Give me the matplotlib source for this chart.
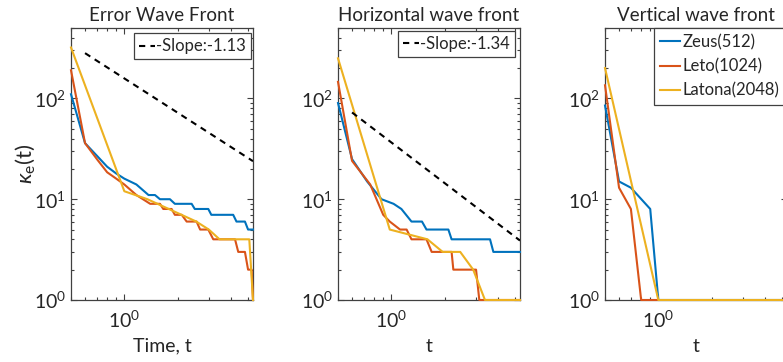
import matplotlib
matplotlib.use('Agg')
import numpy as np
import matplotlib.pyplot as plt
from matplotlib.ticker import NullFormatter

plt.rcParams['font.family'] = ['Lato', 'DejaVu Sans']
plt.rcParams['mathtext.fontset'] = 'custom'
plt.rcParams['mathtext.rm'] = 'Lato'
plt.rcParams['mathtext.it'] = 'Lato:italic'

# kappa_e(t) for each resolution, per wave-front type
err_zeus_t = [0.5, 0.6, 0.7, 0.8, 0.9, 1.0, 1.17, 1.37, 1.49, 1.59, 1.81, 1.93, 2.40, 2.5, 2.98, 3.1, 4.12, 4.3, 4.8, 5.0, 5.33]
err_zeus_k = [110, 36, 27, 21, 18, 16, 14, 11, 11, 10, 10, 9, 9, 8, 8, 7, 7, 6, 6, 5, 5]
err_leto_t = [0.5, 0.6, 0.7, 0.8, 0.9, 1.0, 1.17, 1.4, 1.59, 1.66, 1.85, 1.93, 2.11, 2.25, 2.56, 2.68, 2.98, 3.18, 4.22, 4.4, 4.8, 5.0, 5.24, 5.33]
err_leto_k = [190, 36, 25, 18.5, 16, 14, 11, 9, 9, 8, 8, 7, 7, 6, 6, 5, 5, 4, 4, 3, 3, 2, 2, 1]
err_latona_t = [0.5, 1.0, 1.35, 2.55, 3.0, 3.45, 5.08, 5.33]
err_latona_k = [320, 12, 10, 6, 5, 4, 4, 1]

hor_zeus_t = [0.5, 0.6, 0.73, 0.88, 1.03, 1.14, 1.3, 1.49, 1.58, 2.1, 2.19, 3.61, 3.77, 5.33]
hor_zeus_k = [90, 25, 15, 10, 9, 8, 6, 6, 5, 5, 4, 4, 3, 3]
hor_leto_t = [0.5, 0.6, 0.76, 0.9, 0.98, 1.12, 1.22, 1.3, 1.58, 1.69, 2.19, 2.24, 3.01, 3.14, 5.33]
hor_leto_k = [146, 24, 14, 7, 6, 5, 5, 4, 4, 3, 3, 2, 2, 1, 1]
hor_latona_t = [0.5, 0.98, 1.6, 1.95, 2.45, 2.9, 3.38, 5.33]
hor_latona_k = [250, 5, 4, 3, 3, 2, 1, 1]

ver_zeus_t = [0.5, 0.6, 0.7, 0.9, 1.0, 5.33]
ver_zeus_k = [85, 15, 13, 8, 1, 1]
ver_leto_t = [0.5, 0.6, 0.7, 0.8, 1.0]
ver_leto_k = [135, 13, 8, 1, 1]
ver_latona_t = [0.5, 1.0, 5.33]
ver_latona_k = [200, 1, 1]

# power-law fits: k = c * t^slope
fit_t = [0.6, 5.33]
err_slope, err_c = -1.13, 158
hor_slope, hor_c = -1.34, 36.6

names = ['Zeus(512)', 'Leto(1024)', 'Latona(2048)']
colors = ['#0072BD', '#D95319', '#EDB120']
titles = ['Error Wave Front', 'Horizontal wave front', 'Vertical wave front']
xlabels = ['Time, t', 't', 't']

fig = plt.figure(figsize=(7.83, 3.62), dpi=100)
lefts = [0.0907, 0.4317, 0.7727]
axes = [fig.add_axes([l, 0.1713, 0.2324, 0.7514]) for l in lefts]

panels = [
    [(err_zeus_t, err_zeus_k), (err_leto_t, err_leto_k), (err_latona_t, err_latona_k)],
    [(hor_zeus_t, hor_zeus_k), (hor_leto_t, hor_leto_k), (hor_latona_t, hor_latona_k)],
    [(ver_zeus_t, ver_zeus_k), (ver_leto_t, ver_leto_k), (ver_latona_t, ver_latona_k)],
]
fits = [(err_slope, err_c), (hor_slope, hor_c), None]

axcol = '#404040'
txtcol = '#262626'
for i, ax in enumerate(axes):
    ax.set_xscale('log')
    ax.set_yscale('log')
    handles = []
    for (t, k), name, c in zip(panels[i], names, colors):
        h, = ax.plot(t, k, color=c, lw=1.5, label=name, zorder=3, clip_on=False)
        handles.append(h)
    if fits[i] is not None:
        s, c0 = fits[i]
        ft = np.array(fit_t)
        fl, = ax.plot(ft, c0 * ft ** s, color='black', lw=1.5, dashes=(3, 2.5),
                      zorder=3, label='-Slope:%.2f' % s)
        leg = ax.legend(handles=[fl], loc='upper right',
                        bbox_to_anchor=(0.988, 0.98) if i == 0 else (0.973, 0.99),
                        borderaxespad=0, fontsize=12, handlelength=1.0,
                        handletextpad=0.05, borderpad=0.3, fancybox=False,
                        framealpha=1, edgecolor=axcol)
    else:
        leg = ax.legend(handles=handles, loc='upper right', bbox_to_anchor=(0.99, 1.0),
                        borderaxespad=0, fontsize=12, handlelength=1.2,
                        handletextpad=0.15, borderpad=0.35, labelspacing=0.5,
                        fancybox=False, framealpha=1, edgecolor=axcol)
    leg.get_frame().set_linewidth(0.9)
    for txt in leg.get_texts():
        txt.set_color(txtcol)

    ax.set_xlim(0.5, 5.33)
    ax.set_ylim(1, 500)
    ax.xaxis.set_minor_formatter(NullFormatter())
    ax.yaxis.set_minor_formatter(NullFormatter())
    ax.tick_params(which='both', direction='in', top=True, right=True,
                   colors=axcol, labelcolor=txtcol, labelsize=14, width=0.8)
    ax.tick_params(which='major', length=4)
    ax.tick_params(axis='x', which='major', pad=7)
    ax.tick_params(which='minor', length=2.5)
    for sp in ax.spines.values():
        sp.set_color(axcol)
        sp.set_linewidth(0.9)
    ax.set_title(titles[i], fontsize=13.5, color=txtcol, pad=5)
    ax.set_xlabel(xlabels[i], fontsize=14, color=txtcol, labelpad=5)

axes[0].set_ylabel(r'$\kappa_{\rm e}$(t)', fontsize=16, color=txtcol, labelpad=-2)

fig.savefig('out.png', dpi=100)
